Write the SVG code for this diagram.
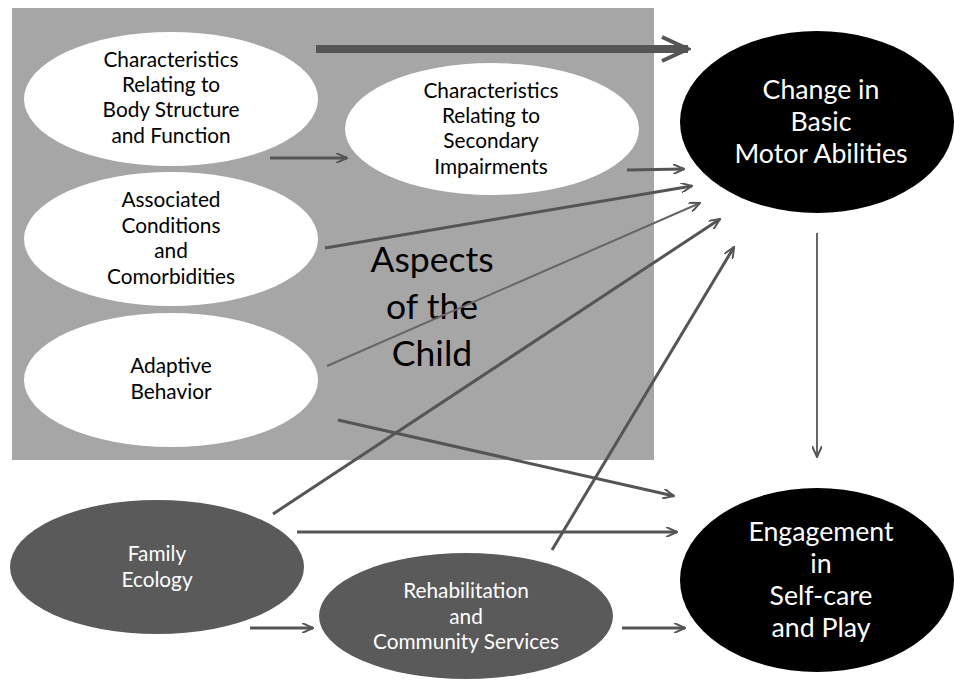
<svg xmlns="http://www.w3.org/2000/svg" width="954" height="681" viewBox="0 0 954 681">
<style>
text{font-family:"Lato","Open Sans","DejaVu Sans",sans-serif;text-anchor:middle}
.t{font-size:20.8px;fill:#000}
.w{font-size:20.8px;fill:#fff}
.big{font-size:26.7px;fill:#fff}
.asp{font-size:35.5px;fill:#000}
.white{fill:#fff}
.dark{fill:#5a5a5a}
.black{fill:#000}
.c{stroke:#555;stroke-width:3;fill:none;marker-end:url(#ah)}
.thin{stroke:#666;stroke-width:2}
</style>
<defs>
<marker id="ah" viewBox="0 0 12 10" refX="11" refY="5" markerWidth="12" markerHeight="10" markerUnits="userSpaceOnUse" orient="auto">
<path d="M0,0 L11,5 L0,10" fill="none" stroke="#555" stroke-width="2"/>
</marker>
<marker id="ahb" viewBox="0 0 32 28" refX="29" refY="14" markerWidth="32" markerHeight="28" markerUnits="userSpaceOnUse" orient="auto">
<path d="M3,2 L29,14 L3,26" fill="none" stroke="#555" stroke-width="4"/>
</marker>
</defs>
<rect x="12" y="8" width="642" height="452" fill="#a6a6a6"/>
<g id="aspects">
<text class="asp" x="432" y="272">Aspects</text>
<text class="asp" x="432" y="319">of the</text>
<text class="asp" x="432" y="366">Child</text>
</g>
<g id="connectors">
<line x1="316" y1="49" x2="688" y2="49" stroke="#555" stroke-width="8" marker-end="url(#ahb)"/>
<line class="c" x1="270" y1="158" x2="347" y2="158"/>
<line class="c" x1="627" y1="170" x2="684" y2="169"/>
<line class="c" x1="325" y1="248" x2="692" y2="186"/>
<line class="c thin" x1="327" y1="366" x2="700" y2="203"/>
<line class="c" x1="273" y1="514" x2="720" y2="219"/>
<line class="c" x1="552" y1="550" x2="734" y2="247"/>
<line class="c" x1="338" y1="420" x2="674" y2="496"/>
<line class="c" x1="297" y1="532" x2="677" y2="532"/>
<line class="c" x1="250" y1="628" x2="313" y2="628"/>
<line class="c" x1="622" y1="628" x2="685" y2="628"/>
<line class="c thin" x1="817" y1="233" x2="817" y2="457"/>
</g>
<g id="body">
<ellipse class="white" cx="171" cy="99" rx="147" ry="67"/>
<text class="t" x="171" y="67">Characteristics</text>
<text class="t" x="171" y="92">Relating to</text>
<text class="t" x="171" y="117">Body Structure</text>
<text class="t" x="171" y="143">and Function</text>
</g>
<g id="associated">
<ellipse class="white" cx="171" cy="239" rx="147" ry="67"/>
<text class="t" x="171" y="207">Associated</text>
<text class="t" x="171" y="233">Conditions</text>
<text class="t" x="171" y="258">and</text>
<text class="t" x="171" y="284">Comorbidities</text>
</g>
<g id="adaptive">
<ellipse class="white" cx="171" cy="380" rx="147" ry="67"/>
<text class="t" x="171" y="373">Adaptive</text>
<text class="t" x="171" y="399">Behavior</text>
</g>
<g id="secondary">
<ellipse class="white" cx="492" cy="129" rx="147" ry="66"/>
<text class="t" x="491" y="98">Characteristics</text>
<text class="t" x="491" y="123">Relating to</text>
<text class="t" x="491" y="148">Secondary</text>
<text class="t" x="491" y="174">Impairments</text>
</g>
<g id="change">
<ellipse class="black" cx="817" cy="122" rx="137" ry="91"/>
<text class="big" x="821" y="99">Change in</text>
<text class="big" x="821" y="131">Basic</text>
<text class="big" x="821" y="163">Motor Abilities</text>
</g>
<g id="engagement">
<ellipse class="black" cx="817" cy="580" rx="137" ry="92"/>
<text class="big" x="821" y="541">Engagement</text>
<text class="big" x="821" y="573">in</text>
<text class="big" x="821" y="605">Self-care</text>
<text class="big" x="821" y="637">and Play</text>
</g>
<g id="family">
<ellipse class="dark" cx="157" cy="567" rx="147" ry="67"/>
<text class="w" x="157" y="561">Family</text>
<text class="w" x="157" y="587">Ecology</text>
</g>
<g id="rehab">
<ellipse class="dark" cx="466" cy="616" rx="147" ry="63"/>
<text class="w" x="466" y="598">Rehabilitation</text>
<text class="w" x="466" y="624">and</text>
<text class="w" x="466" y="649">Community Services</text>
</g>
</svg>
